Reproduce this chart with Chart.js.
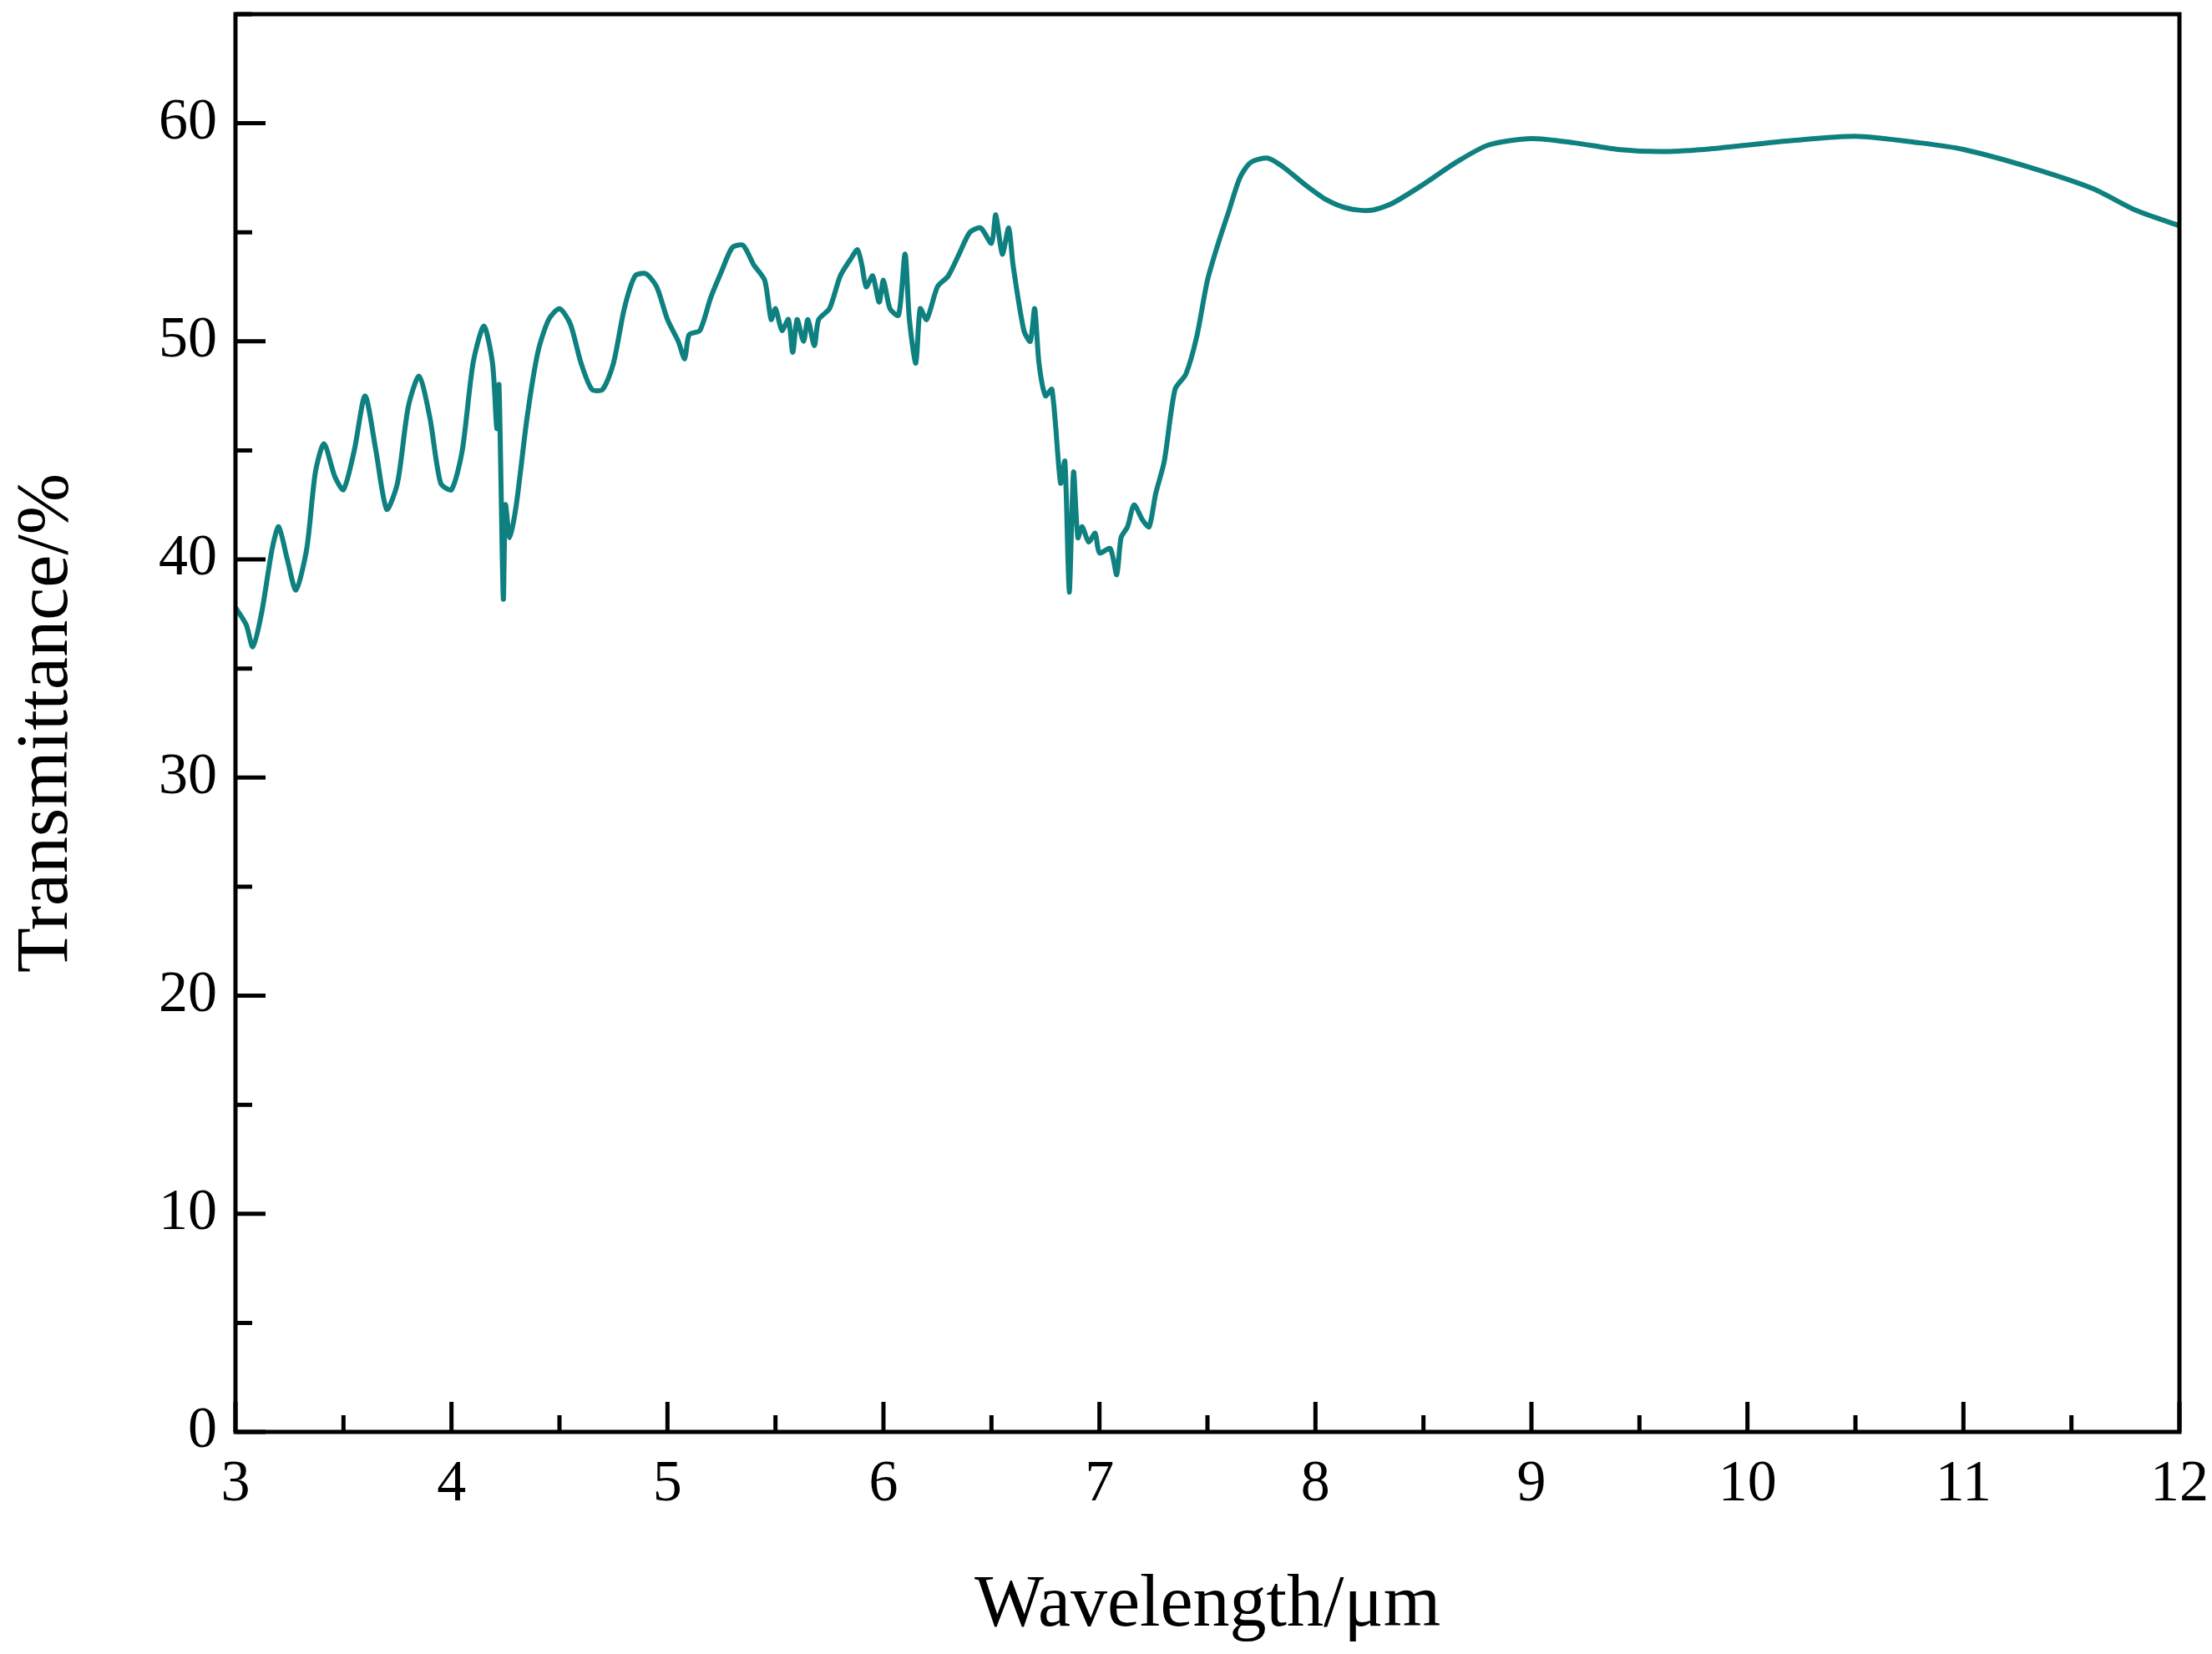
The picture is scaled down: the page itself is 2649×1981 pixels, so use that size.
<!DOCTYPE html>
<html>
<head>
<meta charset="utf-8">
<script src="https://cdn.jsdelivr.net/npm/chart.js@4"></script>
<style>
  html, body { margin: 0; padding: 0; background: #fff; }
  #wrap { width: 2649px; height: 1981px; }
</style>
</head>
<body>
<div id="wrap"><canvas id="spec"></canvas></div>
<script>
// wavelength (um) and transmittance (%)
const wavelength = [3.0,3.05,3.08,3.12,3.17,3.2,3.24,3.28,3.33,3.37,3.41,3.46,3.5,3.55,3.6,3.65,3.7,3.75,3.8,3.85,3.9,3.95,4.0,4.05,4.1,4.15,4.19,4.21,4.22,4.24,4.25,4.27,4.3,4.35,4.4,4.45,4.5,4.55,4.6,4.65,4.7,4.75,4.8,4.85,4.9,4.95,5.0,5.05,5.08,5.1,5.15,5.2,5.25,5.3,5.35,5.4,5.45,5.48,5.5,5.53,5.56,5.58,5.6,5.63,5.65,5.68,5.7,5.75,5.8,5.85,5.88,5.9,5.92,5.95,5.98,6.0,6.03,6.07,6.1,6.12,6.15,6.17,6.2,6.25,6.3,6.35,6.4,6.45,6.5,6.52,6.55,6.58,6.6,6.65,6.68,6.7,6.72,6.75,6.78,6.82,6.84,6.86,6.88,6.9,6.92,6.95,6.98,7.0,7.05,7.08,7.1,7.13,7.16,7.2,7.23,7.26,7.3,7.35,7.4,7.45,7.5,7.55,7.6,7.65,7.7,7.78,7.85,7.95,8.05,8.15,8.25,8.35,8.5,8.65,8.8,9.0,9.2,9.4,9.6,9.8,10.0,10.2,10.5,10.8,11.0,11.3,11.6,11.8,12.0];
const transmittance = [37.8,37.0,36.0,37.5,40.5,41.5,40,38.6,40.5,44,45.3,43.8,43.2,45,47.5,45,42.3,43.5,47,48.4,46.5,43.5,43.2,45,49,50.7,49,46,48,38.2,42.5,41,42.5,46.5,49.5,51,51.5,50.8,49,47.8,47.8,49,51.5,53,53.1,52.5,51,50,49.2,50.3,50.5,52,53.2,54.3,54.4,53.5,52.8,51,51.5,50.5,51,49.5,51,50,51,49.8,51,51.5,53,53.8,54.2,53.5,52.5,53,51.8,52.8,51.5,51.2,54,51,49,51.5,51,52.5,53,54,55,55.2,54.5,55.8,54,55.2,53.5,50.5,50,51.5,49,47.5,47.8,43.5,44.5,38.5,44,41,41.5,40.8,41.2,40.3,40.5,39.3,41,41.5,42.5,41.8,41.5,43,44.5,47.8,48.5,50.2,52.8,54.5,56,57.5,58.2,58.4,58,57.2,56.5,56.1,56,56.3,57.2,58.2,59,59.3,59.1,58.8,58.7,58.8,59.0,59.2,59.4,59.1,58.8,58,57,56,55.3];

const xMajor = [3,4,5,6,7,8,9,10,11,12];
const yMajor = [0,10,20,30,40,50,60];

// frame box plus inward ticks
const frame = {
  id: 'frame',
  afterDraw(chart) {
    const { ctx, chartArea: a, scales: { x, y } } = chart;
    ctx.save();
    ctx.strokeStyle = '#000';
    ctx.lineWidth = 5;
    ctx.strokeRect(a.left, a.top, a.right - a.left, a.bottom - a.top);
    ctx.beginPath();
    for (let v = 3; v <= 12; v += 0.5) {
      const px = x.getPixelForValue(v);
      const len = Number.isInteger(v) ? 36 : 20;
      ctx.moveTo(px, a.bottom); ctx.lineTo(px, a.bottom - len);
    }
    for (let v = 0; v <= 65; v += 5) {
      const py = y.getPixelForValue(v);
      const len = v % 10 === 0 ? 36 : 20;
      ctx.moveTo(a.left, py); ctx.lineTo(a.left + len, py);
    }
    ctx.stroke();
    ctx.restore();
  }
};

new Chart(document.getElementById('spec'), {
  type: 'line',
  data: {
    datasets: [{
      data: wavelength.map((w, i) => ({ x: w, y: transmittance[i] })),
      borderColor: '#0f8080',
      borderWidth: 6,
      pointRadius: 0,
      tension: 0.25,
      fill: false
    }]
  },
  options: {
    responsive: true,
    maintainAspectRatio: false,
    animation: false,
    layout: { padding: { top: 17, right: 39 } },
    plugins: { legend: { display: false }, tooltip: { enabled: false } },
    scales: {
      x: {
        type: 'linear', min: 3, max: 12,
        afterBuildTicks: s => { s.ticks = xMajor.map(v => ({ value: v })); },
        grid: { display: false },
        border: { display: false },
        ticks: { color: '#000', padding: 14, maxRotation: 0, font: { family: 'Liberation Serif', size: 70 } },
        title: { display: true, text: 'Wavelength/μm', color: '#000', padding: { top: 20 }, font: { family: 'Liberation Serif', size: 88 } },
        afterFit: s => { s.height = 266; s.paddingRight = 0; }
      },
      y: {
        min: 0, max: 65,
        afterBuildTicks: s => { s.ticks = yMajor.map(v => ({ value: v })); },
        grid: { display: false },
        border: { display: false },
        ticks: { color: '#000', padding: 14, font: { family: 'Liberation Serif', size: 70 } },
        title: { display: true, text: 'Transmittance/%', color: '#000', padding: { bottom: 30 }, font: { family: 'Liberation Serif', size: 88 } },
        afterFit: s => { s.width = 282; s.paddingTop = 0; }
      }
    }
  },
  plugins: [frame]
});
</script>
</body>
</html>
